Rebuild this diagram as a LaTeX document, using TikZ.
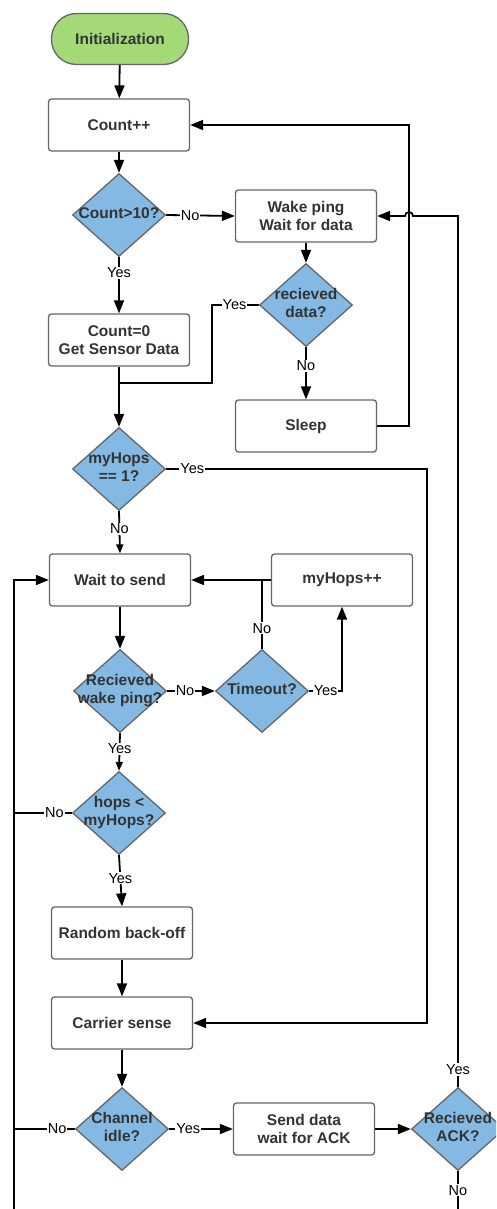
\documentclass[tikz,border=0pt]{standalone}
\usepackage{fontspec}
\setmainfont{Liberation Sans}
\usetikzlibrary{shapes.geometric,arrows.meta}
\definecolor{termgreen}{HTML}{A3D977}
\definecolor{decblue}{HTML}{83B9E3}
\definecolor{edgegray}{HTML}{666666}
\definecolor{txt}{HTML}{333333}
\newcommand{\dlines}[1]{\makebox[0pt][c]{\begin{tabular}{@{}c@{}}#1\end{tabular}}}
\tikzset{
  base/.style={draw=edgegray, line width=1.3pt, text=txt,
    font=\fontsize{15.5}{18.5}\selectfont\bfseries, align=center},
  proc/.style={base, rectangle, rounded corners=3pt, fill=white,
    minimum width=141pt, minimum height=52pt, inner sep=0pt},
  term/.style={base, rectangle, rounded corners=25pt, fill=termgreen,
    minimum width=137pt, minimum height=51pt, inner sep=0pt},
  decision/.style={base, diamond, fill=decblue, inner sep=0pt,
    minimum width=93pt, minimum height=83pt},
  flow/.style={draw=black, line width=1.8pt,
    -{Triangle[length=13pt,width=10pt]}},
  flowsm/.style={draw=black, line width=1.8pt,
    -{Triangle[length=9pt,width=7pt]}},
  plain/.style={draw=black, line width=1.8pt},
  lbl/.style={fill=white, inner sep=1pt, text=black,
    font=\fontsize{14.5}{16}\selectfont},
}
\begin{document}
\begin{tikzpicture}[x=1pt,y=1pt]
\useasboundingbox (0,0) rectangle (496,-1209);
\clip (0,0) rectangle (496,-1209);
\fill[white] (0,0) rectangle (496,-1209);

% nodes
\node[term] (init) at (120,-39) {Initialization};
\node[proc] (count) at (119,-125) {Count++};
\node[decision] (cnt10) at (119,-215) {\dlines{Count>10?}};
\node[proc] (wake) at (306,-216) {Wake ping\\Wait for data};
\node[decision] (recv) at (306,-305) {\dlines{recieved\\data?}};
\node[proc] (cnt0) at (119,-340) {Count=0\\Get Sensor Data};
\node[proc] (sleep) at (306,-426) {Sleep};
\node[decision] (hops1) at (119,-469) {\dlines{myHops\\== 1?}};
\node[proc] (wait) at (120,-580) {Wait to send};
\node[proc] (myhpp) at (342,-580) {myHops++};
\node[decision] (rwp) at (120,-691) {\dlines{Recieved\\wake ping?}};
\node[decision] (tmo) at (262,-691) {\dlines{Timeout?}};
\node[decision] (hlt) at (119,-813) {\dlines{hops <\\myHops?}};
\node[proc] (rbo) at (122,-933) {Random back-off};
\node[proc] (cs) at (122,-1023) {Carrier sense};
\node[decision] (chi) at (122,-1129) {\dlines{Channel\\idle?}};
\node[proc] (send) at (304,-1129) {Send data\\wait for ACK};
\node[decision] (rack) at (458,-1129) {\dlines{Recieved\\ACK?}};

% junctions and free ends
\coordinate (m1) at (119,-383);
\coordinate (m2) at (262,-580);
\coordinate (loopbot) at (14,-1209);
\coordinate (ackbot) at (458,-1209);

% connectors
\draw[flow] (init) -- (count);
\draw[flow] (count) -- (cnt10);
\draw[flow] (cnt10.east) -- node[lbl,pos=.35] (l1) {No} (wake.west);
\draw[flow] (cnt10.south) -- node[lbl,pos=.28] (l2) {Yes} (cnt0.north);
\draw[flow] (wake) -- (recv);
\draw[flow] (recv.south) -- node[lbl,pos=.36] (l3) {No} (sleep.north);
\draw[plain] (recv.west) -- node[lbl,pos=.52] (l4) {Yes} (212,-305) -- (212,-383) -- (m1);
\draw[flow] (cnt0.south) -- (hops1.north);
\draw[flow] (hops1.east) -- node[lbl,pos=.1] (l5) {Yes} (427,-469) -- (427,-1023) -- (cs.east);
\draw[flowsm] (hops1.south) -- node[lbl,pos=.42] (l6) {No} (wait.north);
\draw[flow] (sleep.east) -- (409,-426) -- (409,-125) -- (count.east);
\draw[flow] (rack.north) -- node[lbl,pos=.02] (l7) {Yes} (458,-216) -- (413,-216)
  arc[start angle=0,end angle=180,radius=4] -- (wake.east);
\draw[flow] (wait) -- (rwp);
\draw[flow] (rwp.east) -- node[lbl,pos=.375] (l8) {No} (tmo.west);
\draw[plain] (tmo.north) -- node[lbl,pos=.3] (l9) {No} (m2);
\draw[flow] (myhpp.west) -- (wait.east);
\draw[flow] (tmo.east) -- node[lbl,pos=.5] (l10) {Yes} (342,-691) -- (myhpp.south);
\draw[flowsm] (rwp.south) -- node[lbl,pos=.42] (l11) {Yes} (hlt.north);
\draw[plain] (hlt.west) -- node[lbl,pos=.3] (l12) {No} (14,-813);
\draw[flow] (hlt.south) -- node[lbl,pos=.45] (l13) {Yes} (rbo.north);
\draw[flow] (rbo) -- (cs);
\draw[flow] (cs) -- (chi);
\draw[flow] (chi.east) -- node[lbl,pos=.3] (l14) {Yes} (send.west);
\draw[flow] (send.east) -- (rack.west);
\draw[plain] (chi.west) -- node[lbl,pos=.29] (l15) {No} (14,-1129);
\draw[flow] (loopbot) -- (14,-580) -- (wait.west);
\draw[plain] (rack.south) -- node[lbl,pos=.5] (l16) {No} (ackbot);
\end{tikzpicture}
\end{document}
